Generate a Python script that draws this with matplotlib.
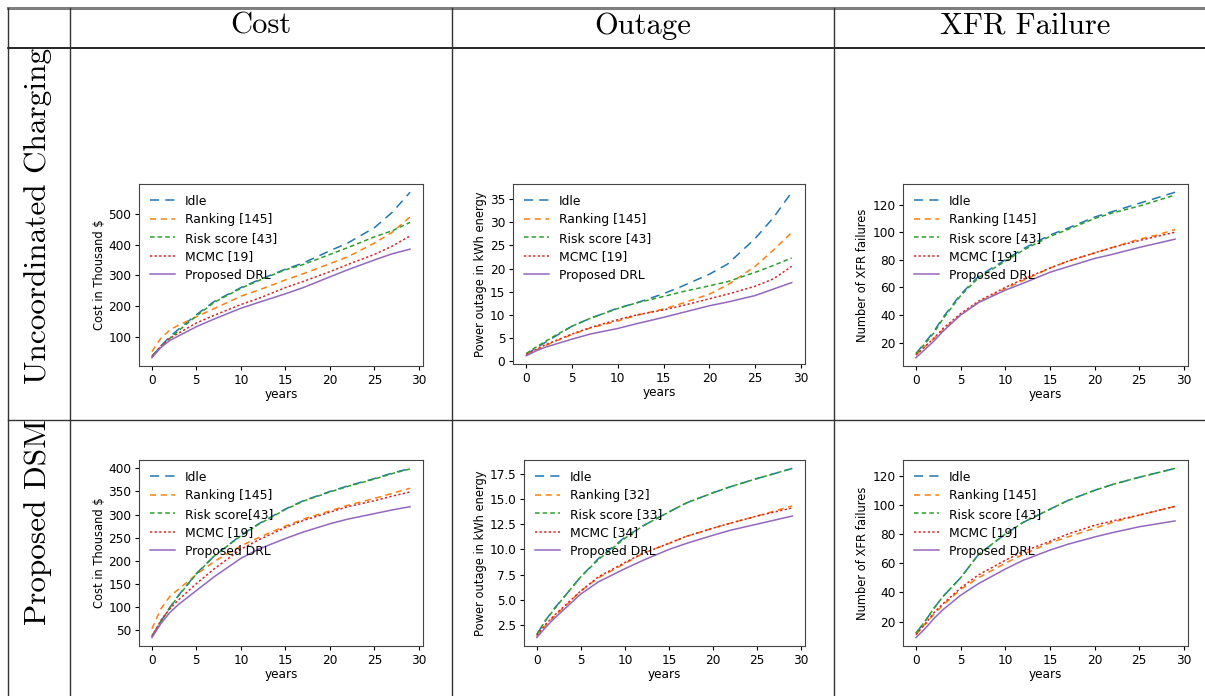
import matplotlib
matplotlib.use("Agg")
import matplotlib.pyplot as plt
from matplotlib.lines import Line2D

YEARS = [0, 1, 2, 3, 5, 7, 10, 12, 15, 17, 20, 22, 25, 27, 29]
XTICKS = [0, 5, 10, 15, 20, 25, 30]

LABELS_UC = ["Idle", "Ranking [145]", "Risk score [43]", "MCMC [19]", "Proposed DRL"]
LABELS_COST_DSM = ["Idle", "Ranking [145]", "Risk score[43]", "MCMC [19]", "Proposed DRL"]
LABELS_OUT_DSM = ["Idle", "Ranking [32]", "Risk score [33]", "MCMC [34]", "Proposed DRL"]
LABELS_XFR_DSM = ["Idle", "Ranking [145]", "Risk score [43]", "MCMC [19]", "Proposed DRL"]

YT_COST_UC = [100, 200, 300, 400, 500]
YT_OUT_UC = [0, 5, 10, 15, 20, 25, 30, 35]
YT_XFR = [20, 40, 60, 80, 100, 120]
YT_COST_DSM = [50, 100, 150, 200, 250, 300, 350, 400]
YT_OUT_DSM = [2.5, 5.0, 7.5, 10.0, 12.5, 15.0, 17.5]

# ── Uncoordinated charging ──
cost_uc_idle = [35, 70, 100, 125, 172, 215, 260, 285, 320, 340, 380, 405, 455, 505, 570]
cost_uc_rank = [52, 95, 122, 138, 165, 192, 232, 252, 285, 305, 338, 360, 405, 440, 490]
cost_uc_risk = [38, 68, 95, 120, 168, 212, 258, 283, 318, 335, 368, 390, 425, 445, 472]
cost_uc_mcmc = [35, 70, 95, 112, 145, 170, 205, 225, 260, 280, 312, 335, 368, 395, 428]
cost_uc_drl = [32, 65, 88, 103, 133, 158, 193, 212, 240, 260, 295, 318, 350, 370, 385]

out_uc_idle = [1.5, 2.8, 4.0, 5.2, 7.6, 9.3, 11.5, 12.6, 14.6, 16.2, 18.8, 21.0, 26.5, 31.0, 36.5]
out_uc_rank = [1.5, 2.4, 3.3, 4.2, 5.8, 7.2, 8.7, 9.9, 11.3, 12.5, 14.5, 16.5, 20.5, 24.0, 27.8]
out_uc_risk = [1.7, 3.0, 4.2, 5.4, 7.6, 9.3, 11.4, 12.6, 14.0, 15.0, 16.3, 17.2, 19.2, 20.7, 22.3]
out_uc_mcmc = [1.5, 2.5, 3.5, 4.3, 5.9, 7.3, 9.0, 10.0, 11.1, 12.0, 13.5, 14.5, 16.2, 17.8, 20.5]
out_uc_drl = [1.2, 2.2, 3.0, 3.6, 4.8, 5.9, 7.1, 8.1, 9.5, 10.5, 12.0, 12.8, 14.2, 15.6, 17.0]

xfr_uc_idle = [12, 20, 28, 38, 55, 68, 80, 88, 98, 103, 111, 115, 121, 125, 129]
xfr_uc_rank = [11, 17, 23, 29, 40, 49, 59, 65, 74, 79, 85, 89, 95, 98, 102]
xfr_uc_risk = [12, 19, 27, 37, 54, 67, 79, 87, 97, 102, 110, 114, 119, 123, 127]
xfr_uc_mcmc = [11, 17, 23, 30, 41, 50, 60, 66, 74, 79, 85, 89, 94, 97, 100]
xfr_uc_drl = [9, 15, 21, 28, 40, 49, 58, 63, 71, 75, 81, 84, 89, 92, 95]

# ── Proposed DSM ──
cost_dsm_idle = [35, 68, 98, 125, 172, 210, 255, 280, 312, 330, 350, 362, 378, 390, 400]
cost_dsm_rank = [52, 95, 122, 138, 170, 198, 232, 250, 275, 290, 308, 320, 335, 346, 357]
cost_dsm_risk = [37, 67, 97, 124, 171, 210, 254, 279, 311, 329, 349, 361, 377, 389, 399]
cost_dsm_mcmc = [35, 70, 95, 115, 150, 182, 225, 245, 272, 287, 305, 317, 330, 340, 349]
cost_dsm_drl = [33, 63, 87, 105, 135, 165, 205, 225, 248, 262, 280, 290, 302, 310, 317]

out_dsm_idle = [1.6, 3.0, 4.2, 5.2, 7.3, 9.1, 11.2, 12.3, 13.7, 14.6, 15.6, 16.2, 17.0, 17.5, 18.0]
out_dsm_rank = [1.4, 2.5, 3.4, 4.2, 5.9, 7.2, 8.6, 9.6, 10.6, 11.3, 12.1, 12.6, 13.3, 13.8, 14.3]
out_dsm_risk = [1.6, 3.0, 4.1, 5.2, 7.3, 9.0, 11.1, 12.3, 13.7, 14.6, 15.6, 16.2, 17.0, 17.5, 18.0]
out_dsm_mcmc = [1.5, 2.6, 3.5, 4.3, 5.9, 7.3, 8.7, 9.6, 10.6, 11.3, 12.1, 12.6, 13.3, 13.7, 14.1]
out_dsm_drl = [1.3, 2.3, 3.2, 4.0, 5.6, 6.8, 8.1, 8.9, 10.0, 10.6, 11.4, 11.9, 12.5, 12.9, 13.3]

xfr_dsm_idle = [12, 20, 29, 37, 50, 66, 80, 88, 97, 103, 110, 114, 119, 122, 125]
xfr_dsm_rank = [11, 18, 25, 31, 42, 50, 60, 66, 74, 78, 84, 88, 93, 96, 99]
xfr_dsm_risk = [12, 20, 29, 37, 50, 66, 80, 88, 97, 103, 110, 114, 119, 122, 125]
xfr_dsm_mcmc = [11, 18, 26, 32, 43, 52, 62, 68, 75, 80, 86, 89, 93, 96, 99]
xfr_dsm_drl = [9, 15, 22, 28, 38, 46, 56, 62, 69, 73, 78, 81, 85, 87, 89]

COLS = ["#1f77b4", "#ff7f0e", "#2ca02c", "#d62728", "#9467bd"]
STYLES = [(0, (6, 4)), (0, (4, 3)), (0, (3, 2)), (0, (1.5, 1.5)), "-"]

W, H = 1205, 696
fig = plt.figure(figsize=(W / 100, H / 100), dpi=100)


def box(l, r, t, b):
    return [l / W, 1 - b / H, (r - l) / W, (b - t) / H]


paneles = [
    (box(139, 423, 184, 366), [cost_uc_idle, cost_uc_rank, cost_uc_risk, cost_uc_mcmc, cost_uc_drl],
     LABELS_UC, "Cost in Thousand $", YT_COST_UC, "%d"),
    (box(513, 805, 184, 364), [out_uc_idle, out_uc_rank, out_uc_risk, out_uc_mcmc, out_uc_drl],
     LABELS_UC, "Power outage in kWh energy", YT_OUT_UC, "%d"),
    (box(903, 1188, 184, 366), [xfr_uc_idle, xfr_uc_rank, xfr_uc_risk, xfr_uc_mcmc, xfr_uc_drl],
     LABELS_UC, "Number of XFR failures", YT_XFR, "%d"),
    (box(139, 423, 460, 646), [cost_dsm_idle, cost_dsm_rank, cost_dsm_risk, cost_dsm_mcmc, cost_dsm_drl],
     LABELS_COST_DSM, "Cost in Thousand $", YT_COST_DSM, "%d"),
    (box(524, 805, 460, 646), [out_dsm_idle, out_dsm_rank, out_dsm_risk, out_dsm_mcmc, out_dsm_drl],
     LABELS_OUT_DSM, "Power outage in kWh energy", YT_OUT_DSM, "%.1f"),
    (box(903, 1188, 460, 646), [xfr_dsm_idle, xfr_dsm_rank, xfr_dsm_risk, xfr_dsm_mcmc, xfr_dsm_drl],
     LABELS_XFR_DSM, "Number of XFR failures", YT_XFR, "%d"),
]

for rect, series, labels, ylab, yt, fmt in paneles:
    ax = fig.add_axes(rect)
    for ys, lab, c, ls in zip(series, labels, COLS, STYLES):
        ax.plot(YEARS, ys, color=c, ls=ls, lw=1.1, label=lab)
    ax.set_xticks(XTICKS)
    ax.set_yticks(yt, [fmt % v for v in yt])
    ax.tick_params(labelsize=8.7, length=3, width=0.8, pad=2.5)
    ax.set_xlabel("years", fontsize=8.7, labelpad=1)
    ax.set_ylabel(ylab, fontsize=8.3, labelpad=2)
    for sp in ax.spines.values():
        sp.set_color("#444444")
    ax.legend(loc="upper left", frameon=False, fontsize=8.9, handlelength=2.1,
              handletextpad=0.75, labelspacing=0.45, borderaxespad=0.45)

# ── table grid ──
def hline(y, x0, x1, lw=1.0, color="black"):
    fig.add_artist(Line2D([x0 / W, x1 / W], [1 - y / H, 1 - y / H], lw=lw, color=color))


def vline(x, y0, y1, lw=1.0, color="#333333"):
    fig.add_artist(Line2D([x / W, x / W], [1 - y0 / H, 1 - y1 / H], lw=lw, color=color))


hline(8, 8, W, lw=2.2, color="#7f7f7f")
hline(48, 8, W, lw=1.2)
hline(420, 8, W, lw=1.0, color="#333333")
for x in [8, 70, 452, 834]:
    vline(x, 8, H)

fig.text(261 / W, 1 - 26 / H, "Cost", family="cmr10", fontsize=22, ha="center", va="center")
fig.text(643 / W, 1 - 26 / H, "Outage", family="cmr10", fontsize=22, ha="center", va="center")
fig.text(1025 / W, 1 - 26 / H, "XFR Failure", family="cmr10", fontsize=22, ha="center", va="center")
fig.text(38 / W, 1 - 216 / H, "Uncoordinated Charging", family="cmr10", fontsize=22.5,
         rotation=90, ha="center", va="center")
fig.text(38 / W, 1 - 522 / H, "Proposed DSM", family="cmr10", fontsize=22.5,
         rotation=90, ha="center", va="center")

fig.savefig("out.png", dpi=100)
